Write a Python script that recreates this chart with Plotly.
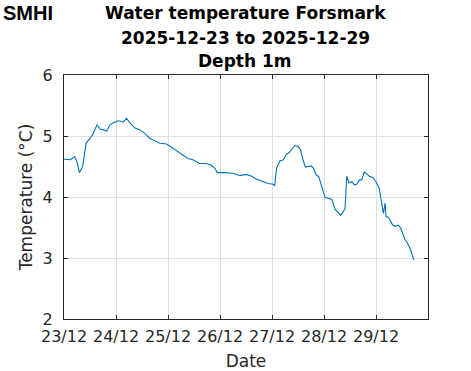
import pandas as pd
import plotly.graph_objects as go

# hours since 2025-12-23 00:00
hours = [0, 0.6, 2.9, 4.9, 6.0, 7.1, 8.6, 10.2, 12.1, 13.2, 15.2, 16.8, 18.3, 19.8, 21.1, 22.9,
         25.2, 27.4, 28.9, 30.5, 32.8, 35.1, 37.4, 39.7, 42.0, 44.3, 47.4, 51.1, 54.1, 57.2,
         59.5, 62.6, 65.7, 68.0, 69.6, 70.8, 73.4, 75.7, 78.1, 81.2, 84.3, 86.6, 88.9, 92.0,
         94.3, 96.5, 97.2, 98.1, 99.6, 101.3, 102.6, 103.7, 104.9, 106.5, 108.0, 109.2, 110.3,
         111.4, 112.6, 114.1, 115.2, 116.4, 117.6, 118.8, 120.5, 122.0, 123.6, 125.1, 126.6,
         127.7, 128.9, 129.7, 130.5, 131.5, 132.8, 134.0, 135.1, 136.3, 137.4, 138.6, 139.7,
         140.9, 142.5, 144.0, 145.5, 146.6, 147.4, 148.2, 148.6, 149.7, 150.8, 151.7, 152.8,
         154.3, 155.4, 156.6, 157.4, 158.4, 159.7, 161.5]
temperature = [4.62, 4.62, 4.61, 4.66, 4.58, 4.40, 4.50, 4.88, 4.96, 5.02, 5.18, 5.11, 5.10, 5.08,
               5.18, 5.22, 5.25, 5.23, 5.29, 5.21, 5.13, 5.10, 5.04, 4.96, 4.92, 4.88, 4.87, 4.78,
               4.70, 4.63, 4.61, 4.55, 4.55, 4.52, 4.47, 4.40, 4.40, 4.40, 4.39, 4.35, 4.37, 4.34,
               4.29, 4.25, 4.22, 4.21, 4.18, 4.47, 4.59, 4.61, 4.70, 4.72, 4.77, 4.84, 4.83, 4.77,
               4.61, 4.49, 4.50, 4.51, 4.47, 4.36, 4.33, 4.20, 3.99, 3.98, 3.96, 3.80, 3.74, 3.70,
               3.76, 3.81, 4.34, 4.23, 4.25, 4.20, 4.21, 4.28, 4.28, 4.41, 4.38, 4.34, 4.32, 4.25,
               4.14, 3.90, 3.73, 3.90, 3.68, 3.67, 3.60, 3.54, 3.52, 3.54, 3.49, 3.38, 3.30, 3.25,
               3.16, 2.97]

tick_dates = ["2025-12-23", "2025-12-24", "2025-12-25", "2025-12-26", "2025-12-27", "2025-12-28", "2025-12-29"]
tick_labels = ["23/12", "24/12", "25/12", "26/12", "27/12", "28/12", "29/12"]
y_ticks = [2, 3, 4, 5, 6]
title_lines = ["Water temperature Forsmark", "2025-12-23 to 2025-12-29", "Depth 1m"]

start = pd.Timestamp("2025-12-23")
times = [start + pd.Timedelta(hours=h) for h in hours]

fig = go.Figure()
fig.add_trace(go.Scatter(x=times, y=temperature, mode="lines",
                         line=dict(color="#0072BD", width=1.1), showlegend=False))

axis_font = dict(family="DejaVu Sans", size=16, color="#262626")
fig.update_layout(
    width=471, height=371,
    margin=dict(l=64, r=43, t=75, b=52),
    paper_bgcolor="white", plot_bgcolor="white",
    xaxis=dict(type="date", range=["2025-12-23", "2025-12-30"], automargin=False,
               tickvals=tick_dates, ticktext=tick_labels,
               showgrid=True, gridcolor="#dfdfdf", gridwidth=1,
               showline=True, linecolor="#262626", linewidth=1, mirror="ticks",
               ticks="inside", ticklen=4, tickcolor="#262626",
               tickfont=axis_font, zeroline=False, ticklabelstandoff=3,
               title=dict(text="Date", font=dict(family="DejaVu Sans", size=17, color="#262626"), standoff=10)),
    yaxis=dict(range=[2, 6], tickvals=y_ticks, automargin=False,
               showgrid=True, gridcolor="#dfdfdf", gridwidth=1,
               showline=True, linecolor="#262626", linewidth=1, mirror="ticks",
               ticks="inside", ticklen=4, tickcolor="#262626",
               tickfont=axis_font, zeroline=False, ticklabelstandoff=7,
               title=dict(text="Temperature (°C)", font=dict(family="DejaVu Sans", size=17, color="#262626"), standoff=5)),
)

title_y_px = [13, 38, 61]
for txt, py in zip(title_lines, title_y_px):
    fig.add_annotation(text="<b>" + txt + "</b>", xref="paper", yref="paper",
                       x=(245 - 64) / 364, y=(319 - py) / 244, xanchor="center", yanchor="middle",
                       showarrow=False, font=dict(family="DejaVu Sans", size=17, color="black"))

fig.add_annotation(text="<b>SMHI</b>", xref="paper", yref="paper", x=(1 - 64) / 364, y=(319 - 0) / 244,
                   xanchor="left", yanchor="top", showarrow=False,
                   font=dict(family="Liberation Sans", size=20, color="black"))

fig.write_html("out.html", config={"displayModeBar": False},
               post_script="document.body.style.margin='0';")
